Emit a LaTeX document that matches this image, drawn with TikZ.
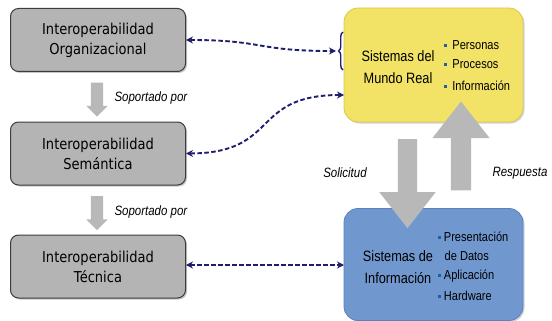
\documentclass[tikz,border=0pt]{standalone}
\usepackage{fontspec}
\setmainfont{Liberation Sans}[FakeStretch=0.85]
\newfontfamily\boxfont{DejaVu Sans}[FakeStretch=0.87]
\usepackage{tikz}
\usetikzlibrary{shapes.arrows,shadows,decorations.pathreplacing,arrows.meta}

\definecolor{boxgray}{HTML}{B4B4B4}
\definecolor{boxedge}{HTML}{3C3C3C}
\definecolor{arrowgray}{HTML}{B8B8B8}
\definecolor{mundo}{HTML}{F2E266}
\definecolor{mundoedge}{HTML}{DCC84E}
\definecolor{sistema}{HTML}{7098CF}
\definecolor{sistemaedge}{HTML}{5B82BE}
\definecolor{navy}{HTML}{1E1E6C}
\definecolor{bulblue}{HTML}{1F5FA8}

\newcommand{\bul}{\textcolor{bulblue}{\raisebox{2.5pt}{\rule{3.2pt}{3.2pt}}}}

\tikzset{
  nivel/.style={draw=boxedge,fill=boxgray,line width=1pt,rounded corners=8pt,
    minimum width=175pt,minimum height=63pt,align=center,
    font=\boxfont\fontsize{15}{20}\selectfont,
    drop shadow={opacity=0.45,shadow xshift=1.5pt,shadow yshift=-1.5pt}},
  sistbox/.style={line width=0.8pt,rounded corners=14pt,minimum width=179pt,
    drop shadow={opacity=0.35,shadow xshift=1.5pt,shadow yshift=-1.5pt}},
  soporte/.style={single arrow,fill=arrowgray,inner sep=0pt,rotate=-90,
    single arrow head extend=4.5pt,minimum height=34pt},
  flujo/.style={single arrow,fill=arrowgray,inner sep=0pt,
    single arrow head extend=18.5pt,single arrow tip angle=76,minimum height=89pt},
  enlace/.style={navy,line width=1.9pt,dash pattern=on 4.5pt off 2.5pt,
    {Stealth[length=7pt,width=7pt]}-{Stealth[length=7pt,width=7pt]}},
  etiq/.style={font=\fontsize{13.5}{16}\selectfont\itshape},
  item/.style={anchor=west,inner sep=0pt,font=\fontsize{13}{15}\selectfont}
}

\begin{document}
\begin{tikzpicture}[x=1pt,y=-1pt]
\useasboundingbox (0,0) rectangle (552,321);

\node[nivel] (org) at (98,40) {Interoperabilidad\\Organizacional};
\node[nivel] (sem) at (98,153.5) {Interoperabilidad\\Semántica};
\node[nivel] (tec) at (98,266.5) {Interoperabilidad\\Técnica};

\node[soporte] (sop1) at (97,96.5) {\rule{0pt}{12pt}};
\node[soporte] (sop2) at (97,210) {\rule{0pt}{12pt}};
\node[etiq,anchor=west] (lsop1) at (111,98) {Soportado por};
\node[etiq,anchor=west] (lsop2) at (111,212) {Soportado por};

\node[sistbox,draw=mundoedge,fill=mundo,minimum height=114pt] (mundo) at (433.5,65) {};
\node[sistbox,draw=sistemaedge,fill=sistema,minimum height=112pt] (sist) at (433.5,264.5) {};

\node[align=center,font=\fontsize{15}{22}\selectfont] (tmundo) at (398,67) {Sistemas del\\Mundo Real};
\node[item] (pers) at (444,45) {\bul\hspace{5pt}Personas};
\node[item] (proc) at (444,64) {\bul\hspace{5pt}Procesos};
\node[item] (info) at (444,86) {\bul\hspace{5pt}Información};

\node[align=center,font=\fontsize{15}{22}\selectfont] (tsist) at (398,267) {Sistemas de\\Información};
\node[item] (pres) at (437.5,237) {\bul\hspace{3pt}Presentación};
\node[item] (datos) at (444.5,256) {de Datos};
\node[item] (apli) at (437.5,276) {\bul\hspace{3pt}Aplicación};
\node[item] (hard) at (437.5,296) {\bul\hspace{3pt}Hardware};

\node[flujo,rotate=-90] (sol) at (407.5,177.5) {\rule{0pt}{19pt}};
\node[flujo,rotate=90] (resp) at (461,152.5) {\rule{0pt}{20pt}};
\node[etiq] (lsol) at (345,173) {Solicitud};
\node[etiq] (lresp) at (520,173) {Respuesta};

\coordinate (llave) at (336,51);
\coordinate (mundoin) at (344,95);
\coordinate (sistin) at (344,265);
\draw[navy,line width=1.4pt,decorate,decoration={brace,amplitude=4.5pt}] (343,70) -- (343,32);
\draw[enlace] (org.east) .. controls (265,40) and (255,51) .. (llave);
\draw[enlace] (sem.east) .. controls (280,153) and (250,95) .. (mundoin);
\draw[enlace] (tec.east |- sistin) -- (sistin);
\end{tikzpicture}
\end{document}
